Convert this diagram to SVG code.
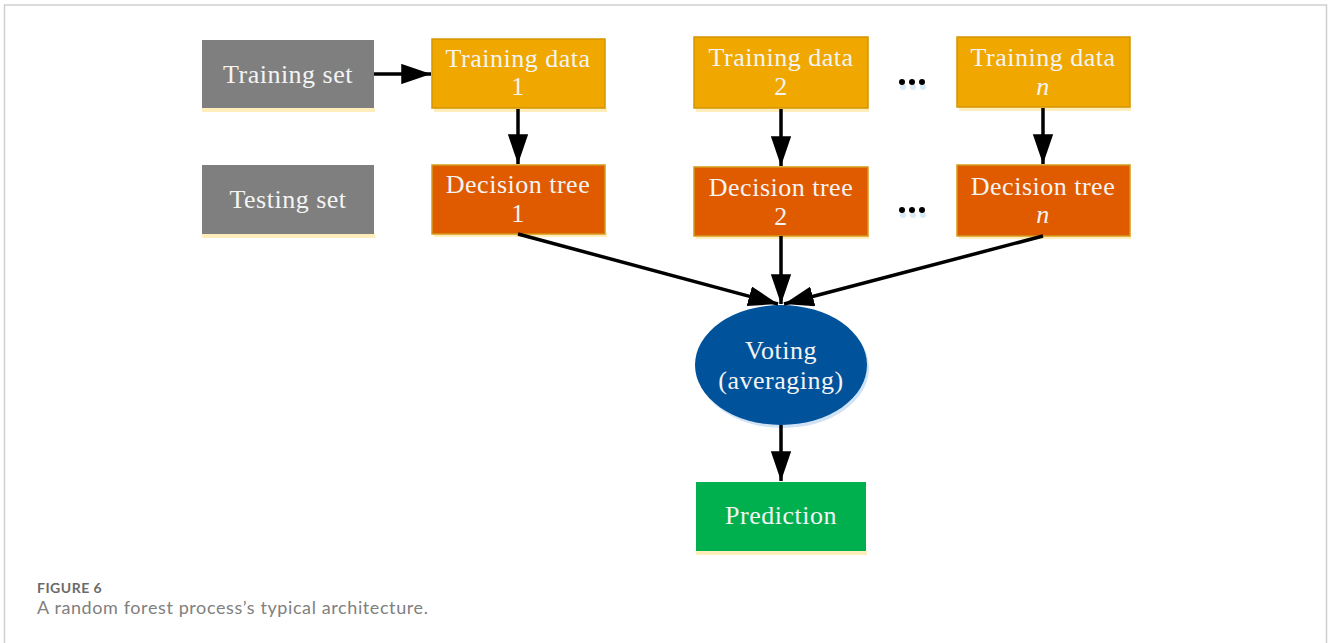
<svg xmlns="http://www.w3.org/2000/svg" width="1328" height="643" viewBox="0 0 1328 643">
<defs>
<style>
.t{font-family:"Liberation Serif","Times New Roman",serif;font-size:26px;letter-spacing:0.5px;fill:#f4f4f4;text-anchor:middle}
.gray{fill:#7f7f7f}
.td{fill:#f0a800;stroke:#d49500;stroke-width:1.5}
.dt{fill:#e05a00;stroke:#d49a1a;stroke-width:1.5}
.sh{fill:#ffeebb}
.c{stroke:#000;stroke-width:3.5;fill:none;marker-end:url(#ah)}
.dot{fill:#000}
.dsh{fill:#d6eaf8}
.cap{font-family:Lato,"Open Sans","Noto Sans",sans-serif}
</style>
<marker id="ah" viewBox="0 0 10 10" refX="10" refY="5" markerWidth="8.5" markerHeight="5.8" orient="auto" markerUnits="strokeWidth" preserveAspectRatio="none">
<path d="M0,0 L10,5 L0,10 z" fill="#000"/>
</marker>
</defs>
<rect width="1328" height="643" fill="#fff"/>
<path d="M4.5,643 V5 H1326.5 V643" fill="none" stroke="#cfcfcf" stroke-width="1.5"/>

<g id="training-set">
<rect class="sh" x="202" y="108" width="173" height="4"/>
<rect class="gray" x="202" y="40" width="172" height="68"/>
<text class="t" x="288" y="83">Training set</text>
</g>
<g id="testing-set">
<rect class="sh" x="202" y="233" width="173" height="5"/>
<rect class="gray" x="202" y="165" width="172" height="69"/>
<text class="t" x="288" y="208">Testing set</text>
</g>

<g id="training-data-1">
<rect class="sh" x="434" y="108" width="173" height="4"/>
<rect class="td" x="432" y="39" width="173" height="69"/>
<text class="t" x="518" y="67">Training data</text>
<text class="t" x="518" y="95">1</text>
</g>
<g id="training-data-2">
<rect class="sh" x="696" y="108" width="173" height="4"/>
<rect class="td" x="694" y="37" width="174" height="71"/>
<text class="t" x="781" y="66">Training data</text>
<text class="t" x="781" y="95">2</text>
</g>
<g id="training-data-n">
<rect class="sh" x="959" y="107" width="172" height="4"/>
<rect class="td" x="957" y="37" width="173" height="70"/>
<text class="t" x="1043" y="66">Training data</text>
<text class="t" x="1043" y="95" font-style="italic">n</text>
</g>

<g id="decision-tree-1">
<rect class="sh" x="434" y="233" width="173" height="4"/>
<rect class="dt" x="432" y="165" width="173" height="69"/>
<text class="t" x="518" y="193">Decision tree</text>
<text class="t" x="518" y="222">1</text>
</g>
<g id="decision-tree-2">
<rect class="sh" x="696" y="235" width="173" height="4"/>
<rect class="dt" x="694" y="167" width="174" height="69"/>
<text class="t" x="781" y="196">Decision tree</text>
<text class="t" x="781" y="225">2</text>
</g>
<g id="decision-tree-n">
<rect class="sh" x="959" y="235" width="172" height="4"/>
<rect class="dt" x="957" y="165" width="173" height="71"/>
<text class="t" x="1043" y="195">Decision tree</text>
<text class="t" x="1043" y="223" font-style="italic">n</text>
</g>

<g id="dots-top">
<circle class="dsh" cx="903" cy="87" r="3"/><circle class="dsh" cx="913" cy="87" r="3"/><circle class="dsh" cx="923" cy="87" r="3"/>
<circle class="dot" cx="902" cy="82" r="3"/><circle class="dot" cx="912" cy="82" r="3"/><circle class="dot" cx="922" cy="82" r="3"/>
</g>
<g id="dots-bottom">
<circle class="dsh" cx="903" cy="215" r="3"/><circle class="dsh" cx="913" cy="215" r="3"/><circle class="dsh" cx="923" cy="215" r="3"/>
<circle class="dot" cx="902" cy="210" r="3"/><circle class="dot" cx="912" cy="210" r="3"/><circle class="dot" cx="922" cy="210" r="3"/>
</g>

<g id="voting">
<ellipse cx="783" cy="368" rx="86" ry="60" fill="#cfe3f5"/>
<ellipse cx="781" cy="365" rx="86" ry="60" fill="#00529b"/>
<text class="t" x="781" y="359">Voting</text>
<text class="t" x="781" y="389">(averaging)</text>
</g>

<g id="prediction">
<rect class="sh" x="696" y="551" width="171" height="4"/>
<rect x="696" y="482" width="170" height="69" fill="#00b04f"/>
<text class="t" x="781" y="524">Prediction</text>
</g>

<g id="connectors">
<line class="c" x1="374" y1="74" x2="431" y2="74"/>
<line class="c" x1="518" y1="109" x2="518" y2="164"/>
<line class="c" x1="781" y1="109" x2="781" y2="166"/>
<line class="c" x1="1043" y1="108" x2="1043" y2="164"/>
<line class="c" x1="518" y1="234" x2="778" y2="304"/>
<line class="c" x1="781" y1="236" x2="781" y2="304"/>
<line class="c" x1="1043" y1="236" x2="784" y2="304"/>
<line class="c" x1="781" y1="425" x2="781" y2="481"/>
</g>

<g id="caption">
<text class="cap" x="37" y="593" font-size="14" font-weight="bold" letter-spacing="0.5" fill="#6a6a6a">FIGURE 6</text>
<text class="cap" x="37" y="614" font-size="18" letter-spacing="0.6" fill="#808080">A random forest process’s typical architecture.</text>
</g>
</svg>
